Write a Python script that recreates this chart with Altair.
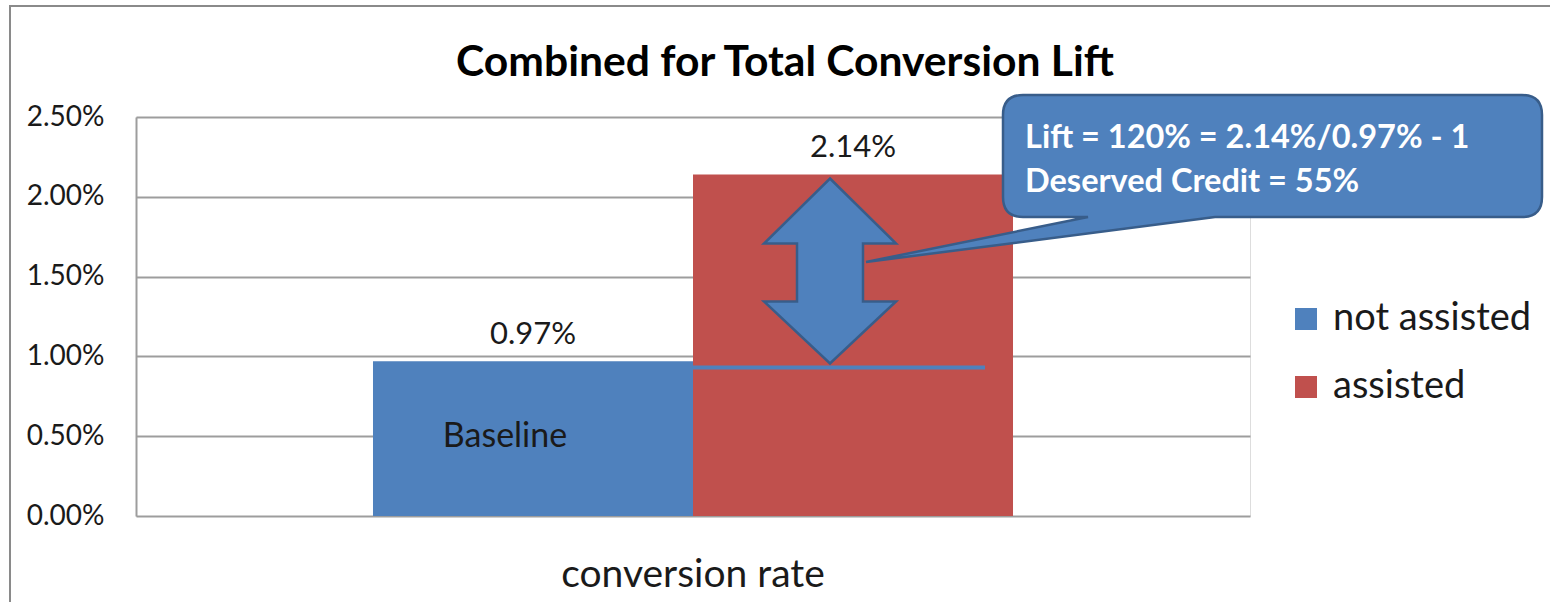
import altair as alt
import pandas as pd

# ---- data ----
category = ["conversion rate"]
series = ["not assisted", "assisted"]
rates = [0.0097, 0.0214]
rate_labels = ["0.97%", "2.14%"]
y_ticks = [0.0, 0.005, 0.01, 0.015, 0.02, 0.025]
baseline_level = 0.0093
callout_lines = ["Lift = 120% = 2.14%/0.97% - 1", "Deserved Credit = 55%"]
baseline_text = "Baseline"
chart_title = "Combined for Total Conversion Lift"

BLUE = "#4F81BD"
RED = "#C0504D"
DARK_BLUE = "#385D8A"
FONT = "Lato"
TXT = "#1a1a1a"

bars_df = pd.DataFrame({
    "metric": category * len(series),
    "series": series,
    "rate": rates,
    "label": rate_labels,
})

W, H = 1114, 399

x_enc = alt.X("metric:N",
              scale=alt.Scale(paddingInner=0, paddingOuter=0.3703),
              axis=alt.Axis(title=None, domain=False, ticks=False, tickSize=0,
                            grid=False,
                            labelAngle=0, labelFont=FONT, labelFontSize=39,
                            labelColor=TXT, labelPadding=39, labelLimit=600))
y_scale = alt.Scale(domain=[0, 0.025], nice=False)
xoff = alt.XOffset("series:N", sort=series,
                   scale=alt.Scale(paddingInner=0, paddingOuter=0))

base = alt.Chart(bars_df)

bars = base.mark_bar(strokeWidth=0).encode(
    x=x_enc,
    xOffset=xoff,
    y=alt.Y("rate:Q", scale=y_scale,
            axis=alt.Axis(title=None, values=y_ticks, format=".2%",
                          labelFont=FONT, labelFontSize=28, labelColor=TXT,
                          labelPadding=32, ticks=False, tickSize=0,
                          domainColor="#9d9d9d", domainWidth=2,
                          gridColor="#9d9d9d", gridWidth=2,
                          labelFlush=False)),
    color=alt.Color("series:N", sort=series,
                    scale=alt.Scale(domain=series, range=[BLUE, RED]),
                    legend=alt.Legend(title=None, orient="none",
                                      legendX=1151, legendY=183,
                                      symbolType="square", symbolSize=484,
                                      symbolStrokeWidth=0, labelFont=FONT,
                                      labelFontSize=38, labelColor=TXT,
                                      labelOffset=8, rowPadding=30,
                                      padding=0, labelLimit=500)),
)

value_text = base.mark_text(font=FONT, fontSize=31, color=TXT, dy=-17,
                            baseline="alphabetic").encode(
    x="metric:N",
    xOffset=alt.XOffset("series:N", sort=series),
    y=alt.Y("rate:Q", scale=y_scale),
    text="label:N",
)

# horizontal reference line at the baseline level
level_df = pd.DataFrame({"level": [baseline_level]})
level_rule = alt.Chart(level_df).mark_rule(color=BLUE, strokeWidth=4).encode(
    x=alt.value(557), x2=alt.value(849),
    y=alt.Y("level:Q", scale=y_scale),
)

one = pd.DataFrame({"k": [0]})

# double-headed arrow (custom symbol, size=4 -> path units are pixels)
arrow_path = ("M0,-92 L66,-27 L33,-27 L33,31 L66,31 L0,93 "
              "L-66,31 L-33,31 L-33,-27 L-66,-27 Z")
arrow = alt.Chart(one).mark_point(shape=arrow_path, size=4, filled=True,
                                  fill=BLUE, stroke=DARK_BLUE, strokeWidth=2.5,
                                  opacity=1).encode(
    x=alt.value(694), y=alt.value(153.5))

# callout box with pointer
callout_path = ("M20,0 L519,0 Q539,0 539,20 L539,102 Q539,122 519,122 "
                "L212,122 L-137,167 L85,122 L20,122 Q0,122 0,102 L0,20 Q0,0 20,0 Z")
callout = alt.Chart(one).mark_point(shape=callout_path, size=4, filled=True,
                                    fill=BLUE, stroke=DARK_BLUE, strokeWidth=2.5,
                                    opacity=1).encode(
    x=alt.value(867), y=alt.value(-22))

callout_df = pd.DataFrame({"t": ["\n".join(callout_lines)]})
callout_text = alt.Chart(callout_df).mark_text(
    font=FONT, fontSize=32.5, fontWeight="bold", color="white",
    align="left", baseline="alphabetic", lineBreak="\n", lineHeight=44).encode(
    x=alt.value(889), y=alt.value(31), text="t:N")

baseline_lbl = alt.Chart(pd.DataFrame({"t": [baseline_text]})).mark_text(
    font=FONT, fontSize=34, color=TXT, align="center", baseline="alphabetic"
).encode(x=alt.value(369), y=alt.value(330), text="t:N")

title_lbl = alt.Chart(pd.DataFrame({"t": [chart_title]})).mark_text(
    font=FONT, fontSize=42.6, fontWeight="bold", color="black",
    align="center", baseline="alphabetic"
).encode(x=alt.value(649), y=alt.value(-41), text="t:N")

# outer frame: a single open path along the left and top edges
frame_path = "M0,600 L0,0 L1600,0"
frame = alt.Chart(one).mark_point(shape=frame_path, size=4, filled=False,
                                  stroke="#8a8a8a", strokeWidth=2,
                                  opacity=1).encode(
    x=alt.value(-126), y=alt.value(-111))

chart = alt.layer(
    frame, bars, value_text, level_rule, arrow, callout,
    callout_text, baseline_lbl, title_lbl
).properties(
    width=W, height=H,
    autosize=alt.AutoSizeParams(type="none"),
    padding={"left": 136, "top": 117, "right": 300, "bottom": 86},
).configure_view(stroke=None).configure(background="white")

chart.save("out.html", embed_options={"renderer": "svg", "actions": False})
